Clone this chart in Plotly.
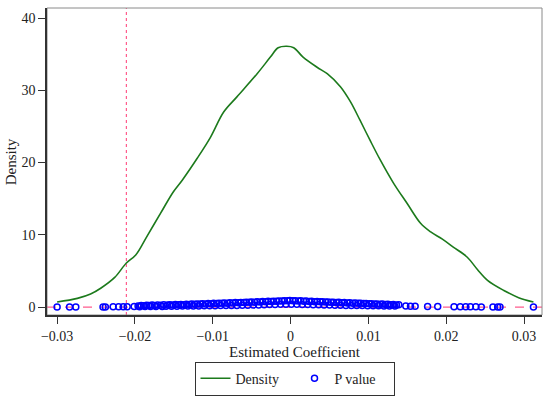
import plotly.graph_objects as go

# Kernel density of estimated coefficients
density_x = [-0.0300, -0.0274, -0.0257, -0.0244, -0.0226, -0.0211, -0.0199, -0.0184, -0.0167,
             -0.0151, -0.0139, -0.0120, -0.0103, -0.0086, -0.0069, -0.0043, -0.0026, -0.0016,
             -0.0005, 0.0004, 0.0016, 0.0034, 0.0047, 0.0064, 0.0077, 0.0089, 0.0102, 0.0115,
             0.0132, 0.0150, 0.0167, 0.0180, 0.0195, 0.0209, 0.0227, 0.0240, 0.0253, 0.0274,
             0.0293, 0.0312]
density_y = [0.7, 1.2, 1.8, 2.6, 4.1, 6.1, 7.2, 9.9, 13.0,
             15.9, 17.6, 20.6, 23.5, 27.0, 29.1, 32.3, 34.6, 35.9,
             36.1, 35.9, 34.6, 33.2, 32.3, 30.5, 28.4, 25.9, 23.1, 20.4,
             17.2, 14.3, 11.6, 10.4, 9.4, 8.3, 6.9, 5.2, 3.7, 2.3,
             1.3, 0.7]

# Estimated coefficients and their p values
pval_coef = [-0.0300, -0.0284, -0.0276, -0.0241, -0.0238, -0.0228, -0.0221, -0.0215, -0.0210, -0.0201,
             -0.0196, -0.0192, -0.0189, -0.0185, -0.0182, -0.0178, -0.0175, -0.0171, -0.0167, -0.0163,
             -0.0158, -0.0155, -0.0151, -0.0148, -0.0144, -0.0141, -0.0137, -0.0134, -0.0130, -0.0127,
             -0.0123, -0.0120, -0.0116, -0.0113, -0.0109, -0.0106, -0.0102, -0.0099, -0.0095, -0.0092,
             -0.0088, -0.0085, -0.0081, -0.0078, -0.0074, -0.0071, -0.0067, -0.0064, -0.0060, -0.0057,
             -0.0053, -0.0050, -0.0046, -0.0043, -0.0039, -0.0036, -0.0032, -0.0029, -0.0025, -0.0022,
             -0.0018, -0.0015, -0.0011, -0.0008, -0.0004, -0.0001, 0.0003, 0.0006, 0.0010, 0.0013,
             0.0017, 0.0020, 0.0024, 0.0027, 0.0031, 0.0034, 0.0038, 0.0041, 0.0045, 0.0048,
             0.0052, 0.0055, 0.0059, 0.0062, 0.0066, 0.0069, 0.0073, 0.0076, 0.0080, 0.0083,
             0.0087, 0.0090, 0.0094, 0.0097, 0.0101, 0.0104, 0.0108, 0.0111, 0.0115, 0.0118,
             0.0122, 0.0125, 0.0129, 0.0132, 0.0136, 0.0139, 0.0148, 0.0154, 0.0160, 0.0176,
             0.0189, 0.0210, 0.0218, 0.0225, 0.0231, 0.0238, 0.0245, 0.0260, 0.0266, 0.0269,
             0.0312,
             -0.0194, -0.0187, -0.0180, -0.0173, -0.0165, -0.0160, -0.0153, -0.0146, -0.0139, -0.0132,
             -0.0125, -0.0118, -0.0111, -0.0104, -0.0097, -0.0090, -0.0083, -0.0076, -0.0069, -0.0062,
             -0.0055, -0.0048, -0.0041, -0.0034, -0.0027, -0.0020, -0.0013, -0.0006, 0.0001, 0.0008,
             0.0015, 0.0022, 0.0029, 0.0036, 0.0043, 0.0050, 0.0057, 0.0064, 0.0071, 0.0078,
             0.0085, 0.0092, 0.0099, 0.0106, 0.0113, 0.0120, 0.0127, 0.0134]
pval = [0.00, 0.01, 0.01, 0.02, 0.02, 0.03, 0.04, 0.05, 0.05, 0.06,
        0.15, 0.22, 0.17, 0.25, 0.20, 0.27, 0.22, 0.29, 0.25, 0.31,
        0.27, 0.33, 0.29, 0.35, 0.31, 0.37, 0.33, 0.39, 0.36, 0.41,
        0.38, 0.44, 0.41, 0.46, 0.43, 0.49, 0.46, 0.51, 0.48, 0.54,
        0.51, 0.56, 0.54, 0.59, 0.56, 0.62, 0.59, 0.64, 0.62, 0.67,
        0.65, 0.70, 0.68, 0.73, 0.71, 0.76, 0.74, 0.79, 0.77, 0.82,
        0.80, 0.85, 0.83, 0.88, 0.86, 0.90, 0.87, 0.89, 0.84, 0.86,
        0.81, 0.83, 0.78, 0.80, 0.75, 0.77, 0.72, 0.74, 0.69, 0.71,
        0.66, 0.68, 0.63, 0.65, 0.60, 0.62, 0.57, 0.59, 0.54, 0.56,
        0.51, 0.53, 0.48, 0.50, 0.45, 0.47, 0.42, 0.44, 0.39, 0.41,
        0.36, 0.38, 0.33, 0.35, 0.30, 0.32, 0.15, 0.12, 0.11, 0.09,
        0.07, 0.05, 0.04, 0.04, 0.03, 0.03, 0.02, 0.01, 0.01, 0.01,
        0.00,
        0.05, 0.06, 0.07, 0.08, 0.09, 0.10, 0.11, 0.12, 0.13, 0.14,
        0.15, 0.16, 0.17, 0.18, 0.19, 0.20, 0.21, 0.22, 0.23, 0.24,
        0.26, 0.28, 0.30, 0.32, 0.34, 0.36, 0.38, 0.40, 0.40, 0.39,
        0.37, 0.35, 0.33, 0.31, 0.29, 0.27, 0.25, 0.24, 0.23, 0.22,
        0.21, 0.20, 0.19, 0.18, 0.17, 0.16, 0.15, 0.14]

true_coef = -0.0211
x_ticks = [-0.03, -0.02, -0.01, 0, 0.01, 0.02, 0.03]
x_tick_labels = ["\u22120.03", "\u22120.02", "\u22120.01", "0", "0.01", "0.02", "0.03"]
y_ticks = [0, 10, 20, 30, 40]
x_title = "Estimated Coefficient"
y_title = "Density"

FONT = "Liberation Serif"
PINK = "#ff5c8d"

fig = go.Figure()
fig.add_trace(go.Scatter(x=density_x, y=density_y, mode="lines", name="Density",
                         line=dict(color="#1c7a1c", width=1.6, shape="spline", smoothing=1.0)))
fig.add_trace(go.Scatter(x=pval_coef, y=pval, mode="markers", name="P value",
                         marker=dict(symbol="circle-open", size=6, color="#0000ff",
                                     line=dict(width=1.5, color="#0000ff"))))

fig.add_shape(type="line", xref="x", yref="paper", x0=true_coef, x1=true_coef, y0=0, y1=1,
              line=dict(color=PINK, width=1.2, dash="dot"), layer="below")
fig.add_shape(type="line", xref="paper", yref="y", x0=0, x1=1, y0=0, y1=0,
              line=dict(color=PINK, width=1.2, dash="dash"), layer="below")
fig.add_shape(type="rect", xref="paper", yref="paper", x0=0, x1=1, y0=0, y1=1,
              line=dict(color="#8a8a8a", width=1), layer="below")

# Axis titles placed as annotations for exact positioning
fig.add_annotation(text=x_title, xref="paper", yref="paper", x=0.5, y=-0.12,
                   xanchor="center", yanchor="middle", showarrow=False,
                   font=dict(family=FONT, size=15, color="#222222"))
fig.add_annotation(text=y_title, xref="paper", yref="paper", x=-0.073, y=0.5,
                   xanchor="center", yanchor="middle", showarrow=False, textangle=-90,
                   font=dict(family=FONT, size=15, color="#222222"))

fig.update_layout(
    width=550, height=396,
    margin=dict(l=47, r=8, t=8, b=81, autoexpand=False),
    paper_bgcolor="white", plot_bgcolor="white",
    font=dict(family=FONT, size=14, color="#222222"),
    showlegend=True,
    legend=dict(orientation="h", x=0.5, xanchor="center", y=-0.152, yanchor="top",
                bordercolor="#333333", borderwidth=1, font=dict(family=FONT, size=14),
                entrywidth=54),
    xaxis=dict(range=[-0.0313, 0.0323], tickvals=x_ticks, ticktext=x_tick_labels,
               automargin=False,
               showgrid=False, zeroline=False, showline=True, linecolor="#333333", linewidth=1.5,
               ticks="outside", ticklen=7, tickcolor="#333333", tickfont=dict(size=14)),
    yaxis=dict(range=[-1.1, 41.4], tickvals=y_ticks, showgrid=False, zeroline=False,
               automargin=False,
               showline=True, linecolor="#333333", linewidth=1.5,
               ticks="outside", ticklen=7, tickcolor="#333333", tickfont=dict(size=14)),
)

# remove the default page margin so the figure fills the window exactly
fig.write_html("out.html", config={"displayModeBar": False},
               post_script="document.body.style.margin='0';")
